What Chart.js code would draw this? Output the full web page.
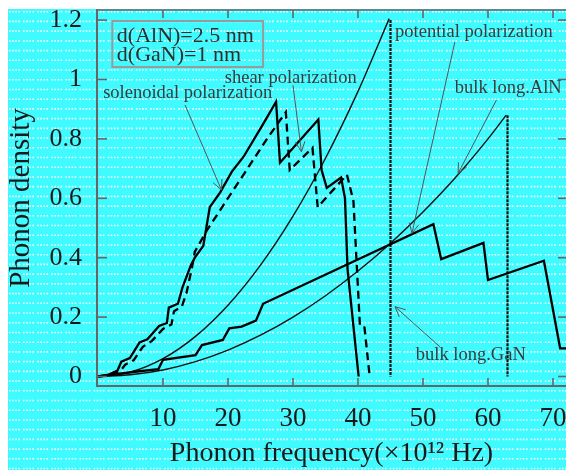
<!DOCTYPE html>
<html>
<head>
<meta charset="utf-8">
<script src="https://cdn.jsdelivr.net/npm/chart.js@4.4.1/dist/chart.umd.min.js"></script>
<style>
  body { margin: 0; background: #fff; }
  canvas { display: block; }
</style>
</head>
<body>
<canvas id="phonon" width="566" height="470"></canvas>
<script>
var ctx = document.getElementById('phonon').getContext('2d');
/* values: frequency (x10^12 Hz) and phonon density */
const solenoidalF = [0, 1.5, 3.0, 3.6, 4.9, 6.4, 7.6, 9.4, 10.6, 10.9, 12.3, 13.0, 14.3, 14.9, 16.2, 17.2, 18.8, 20.6, 22.4, 25.4, 27.4, 28.0, 33.9, 34.4, 35.2, 37.4, 38.0, 38.4, 40.1];
const solenoidalD = [0, 0.005, 0.02, 0.05, 0.062, 0.115, 0.125, 0.17, 0.18, 0.232, 0.245, 0.3, 0.375, 0.40, 0.44, 0.57, 0.62, 0.69, 0.74, 0.85, 0.925, 0.72, 0.865, 0.695, 0.635, 0.67, 0.6, 0.36, 0];

const shearF = [0, 2.0, 3.5, 4.2, 5.5, 6.9, 8.3, 10.0, 11.3, 11.7, 12.9, 13.6, 14.4, 14.9, 16.7, 18.5, 19.8, 21.8, 23.9, 26.0, 27.7, 28.9, 29.5, 33.0, 33.8, 38.3, 39.3, 40.3, 41.0, 41.8];
const shearD = [0, 0.005, 0.02, 0.04, 0.055, 0.1, 0.12, 0.16, 0.175, 0.22, 0.235, 0.28, 0.36, 0.42, 0.49, 0.55, 0.594, 0.66, 0.73, 0.8, 0.853, 0.89, 0.695, 0.77, 0.57, 0.68, 0.59, 0.17, 0.165, 0];

const potentialF = [0, 5.7, 9.3, 10.0, 15.0, 16.0, 19.2, 20.2, 22.1, 24.3, 25.4, 51.6, 52.8, 59.3, 60.0, 68.6, 71.1, 72];
const potentialD = [0, 0.016, 0.025, 0.056, 0.072, 0.106, 0.123, 0.162, 0.168, 0.188, 0.245, 0.513, 0.395, 0.45, 0.325, 0.39, 0.095, 0.095];

const bulkGaNF = [0, 5, 10, 15, 20, 25, 30, 35, 40, 44.8];
const bulkGaND = [0, 0.015, 0.06, 0.135, 0.24, 0.375, 0.54, 0.735, 0.96, 1.205];
const cutGaNF = [45, 45];
const cutGaND = [1.2, 0];

const bulkAlNF = [0, 5, 10, 15, 20, 25, 30, 35, 40, 45, 50, 55, 60, 62.8];
const bulkAlND = [0, 0.006, 0.022, 0.05, 0.089, 0.139, 0.2, 0.272, 0.355, 0.449, 0.554, 0.67, 0.8, 0.88];
const cutAlNF = [63, 63];
const cutAlND = [0.88, 0];

const xTickValues = [10, 20, 30, 40, 50, 60, 70];
const yTickValues = [0, 0.2, 0.4, 0.6, 0.8, 1, 1.2];
const yTickLabels = ['0', '0.2', '0.4', '0.6', '0.8', '1', '1.2'];

// labels and arrows, placed in data units
const notes = [
    { text: 'solenoidal polarization', x: 0.8, y: 0.955, from: [13.4, 0.914], to: [19.0, 0.628] },
    { text: 'shear polarization', x: 19.5, y: 1.005, from: [30.0, 0.981], to: [31.3, 0.757] },
    { text: 'potential polarization', x: 45.7, y: 1.16, from: [54.9, 1.126], to: [48.3, 0.482] },
    { text: 'bulk long.AlN', x: 54.9, y: 0.971, from: [61.3, 0.931], to: [55.4, 0.684] },
    { text: 'bulk long.GaN', x: 48.9, y: 0.072, from: [52.6, 0.1], to: [45.7, 0.235] }
];
const boxLines = ['d(AlN)=2.5 nm', 'd(GaN)=1 nm'];

function pts(fs, ds) { return fs.map((f, i) => ({ x: f, y: ds[i] })); }

const serif = '"Liberation Serif", "DejaVu Serif", serif';
Chart.defaults.font.family = serif;

function line(c, x1, y1, x2, y2) { c.beginPath(); c.moveTo(x1, y1); c.lineTo(x2, y2); c.stroke(); }

const decor = {
    id: 'decor',
    beforeDraw(chart) {
        const c = chart.ctx;
        c.save();
        c.fillStyle = '#fff';
        c.fillRect(0, 0, chart.width, chart.height);
        c.fillStyle = '#3ffbff';
        c.fillRect(8, 9, chart.width - 8, chart.height - 9);
        c.strokeStyle = 'rgba(255,255,255,0.92)';
        c.lineWidth = 1.6;
        c.setLineDash([1.6, 1.5, 1.6, 1.5, 1.6, 1.5, 1.6, 3.2]);
        for (let y = 11.7; y < chart.height; y += 9.72) line(c, 9, y, chart.width, y);
        c.restore();
    },
    afterDatasetsDraw(chart) {
        const c = chart.ctx;
        const { left, right, top, bottom } = chart.chartArea;
        const xs = chart.scales.x, ys = chart.scales.y;
        c.save();
        c.strokeStyle = '#666';
        c.lineWidth = 1.6;
        line(c, left, top, right, top);
        xTickValues.forEach(v => {
            const px = xs.getPixelForValue(v);
            line(c, px, bottom, px, bottom - 8);
            line(c, px, top, px, top + 8);
        });
        yTickValues.forEach(v => {
            const py = ys.getPixelForValue(v);
            line(c, left, py, left + 10, py);
            line(c, right, py, right - 8, py);
        });

        // parameter box
        const bx1 = xs.getPixelForValue(2.2), by1 = ys.getPixelForValue(1.197);
        const bx2 = xs.getPixelForValue(25.4), by2 = ys.getPixelForValue(1.042);
        c.strokeStyle = '#9a9a9a';
        c.lineWidth = 2;
        c.strokeRect(bx1, by1, bx2 - bx1, by2 - by1);
        c.fillStyle = '#2e2e2e';
        c.font = '22px ' + serif;
        c.textBaseline = 'middle';
        c.textAlign = 'left';
        c.fillText(boxLines[0], xs.getPixelForValue(2.9), ys.getPixelForValue(1.146));
        c.fillText(boxLines[1], xs.getPixelForValue(2.9), ys.getPixelForValue(1.082));

        c.font = '18.5px ' + serif;
        c.fillStyle = '#3a3a3a';
        c.strokeStyle = '#555';
        c.lineWidth = 1;
        notes.forEach(n => {
            c.fillText(n.text, xs.getPixelForValue(n.x), ys.getPixelForValue(n.y));
            const x1 = xs.getPixelForValue(n.from[0]), y1 = ys.getPixelForValue(n.from[1]);
            const x2 = xs.getPixelForValue(n.to[0]), y2 = ys.getPixelForValue(n.to[1]);
            line(c, x1, y1, x2, y2);
            const a = Math.atan2(y2 - y1, x2 - x1);
            [0.45, -0.45].forEach(d => {
                line(c, x2, y2, x2 - 11 * Math.cos(a + d), y2 - 11 * Math.sin(a + d));
            });
        });
        c.restore();
    }
};

var myChart = new Chart(ctx, {
    type: 'line',
    data: {
        datasets: [
            { label: 'solenoidal', data: pts(solenoidalF, solenoidalD), borderColor: '#000', borderWidth: 2.3 },
            { label: 'shear', data: pts(shearF, shearD), borderColor: '#000', borderWidth: 2.3, borderDash: [8, 5] },
            { label: 'potential', data: pts(potentialF, potentialD), borderColor: '#000', borderWidth: 2.3 },
            { label: 'bulk GaN', data: pts(bulkGaNF, bulkGaND), borderColor: '#111', borderWidth: 1.4, cubicInterpolationMode: 'monotone' },
            { label: 'GaN cut', data: pts(cutGaNF, cutGaND), borderColor: '#111', borderWidth: 2.2, borderDash: [3, 1] },
            { label: 'bulk AlN', data: pts(bulkAlNF, bulkAlND), borderColor: '#111', borderWidth: 1.4, cubicInterpolationMode: 'monotone' },
            { label: 'AlN cut', data: pts(cutAlNF, cutAlND), borderColor: '#111', borderWidth: 2.2, borderDash: [3, 1] }
        ]
    },
    options: {
        responsive: false,
        animation: false,
        devicePixelRatio: 1,
        elements: { point: { radius: 0 }, line: { borderJoinStyle: 'miter' } },
        layout: { padding: { top: 10, right: 0, left: 0, bottom: 0 }, autoPadding: false },
        plugins: { legend: { display: false }, tooltip: { enabled: false } },
        scales: {
            x: {
                type: 'linear',
                min: -0.15,
                max: 72,
                afterFit: s => { s.height = 84; s.paddingLeft = 0; s.paddingRight = 0; },
                afterBuildTicks: s => { s.ticks = xTickValues.map(v => ({ value: v })); },
                grid: { display: false, drawTicks: false },
                border: { display: true, color: '#666', width: 2 },
                ticks: { font: { size: 27 }, color: '#1a1a1a', padding: 17, maxRotation: 0, autoSkip: false },
                title: { display: true, text: 'Phonon frequency(×10¹² Hz)', font: { size: 28 }, color: '#1a1a1a', padding: { top: 0, bottom: 0 } }
            },
            y: {
                min: -0.032,
                max: 1.234,
                afterFit: s => { s.width = 97; s.paddingTop = 0; s.paddingBottom = 0; },
                afterBuildTicks: s => { s.ticks = yTickValues.map(v => ({ value: v })); },
                grid: { display: false, drawTicks: false },
                border: { display: true, color: '#666', width: 2 },
                ticks: {
                    font: { size: 26 }, color: '#1a1a1a', padding: 15, autoSkip: false,
                    callback: (v, i) => yTickLabels[i]
                },
                title: { display: true, text: 'Phonon density', font: { size: 29 }, color: '#1a1a1a', padding: { top: 4, bottom: 0 } }
            }
        }
    },
    plugins: [decor]
});
</script>
</body>
</html>
